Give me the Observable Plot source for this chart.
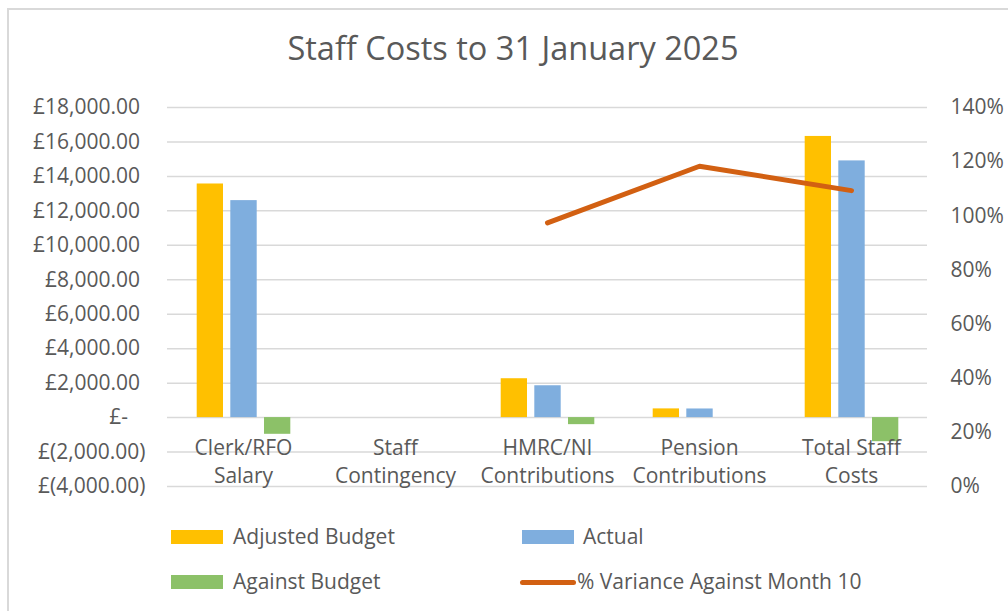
<!DOCTYPE html>
<html>
<head>
<meta charset="utf-8">
<script src="https://cdn.jsdelivr.net/npm/d3@7"></script>
<script src="https://cdn.jsdelivr.net/npm/@observablehq/plot@0.6"></script>
<style>
  html, body { margin: 0; padding: 0; background: white; overflow: hidden; }
  #page { position: relative; width: 1008px; height: 611px; overflow: hidden; font-family: "Open Sans", sans-serif; color: #595959; }
  #frame { position: absolute; left: 7px; top: 8px; width: 1100px; height: 700px; border: 2px solid #d9d9d9; box-sizing: border-box; pointer-events: none; }
  #title { position: absolute; left: 0; top: 0; width: 1008px; height: 80px; box-sizing: border-box; padding-left: 18px; padding-top: 28px; text-align: center; font-size: 32.5px; line-height: 40px; color: #595959; white-space: nowrap; }
  #chart { position: absolute; left: 0; top: 80px; }
  .leg { position: absolute; font-size: 21px; line-height: 28px; color: #595959; white-space: nowrap; }
  .sw { position: absolute; width: 52px; height: 14px; }
  .ln { position: absolute; width: 56px; height: 5px; border-radius: 3px; }
</style>
</head>
<body>
<div id="page">
  <div id="title">Staff Costs to 31 January 2025</div>
  <div id="chart"></div>
  <div id="legend"></div>
  <div id="frame"></div>
</div>
<script>
// ---- data ----
const categories = ["Clerk/RFO\nSalary", "Staff\nContingency", "HMRC/NI\nContributions", "Pension\nContributions", "Total Staff\nCosts"];
const adjustedBudget = [13560, 0, 2256, 505, 16320];
const actual = [12595, 0, 1848, 500, 14900];
const againstBudget = [-970, 0, -410, 0, -1400];
const variancePct = [null, null, 0.974, 1.183, 1.093];
const leftTicks = [-4000, -2000, 0, 2000, 4000, 6000, 8000, 10000, 12000, 14000, 16000, 18000];
const rightTicks = [0, 0.2, 0.4, 0.6, 0.8, 1.0, 1.2, 1.4];
const seriesNames = ["Adjusted Budget", "Actual", "Against Budget", "% Variance Against Month 10"];
const seriesColors = ["#FFC000", "#7FAEDE", "#8CC168", "#D26012"];

// ---- helpers ----
const yMin = -4000, yMax = 18000, pMax = 1.4;
const toLeft = p => yMin + p / pMax * (yMax - yMin);
const fromLeft = v => (v - yMin) / (yMax - yMin) * pMax;
const f2 = d3.format(",.2f");
function fmtGBP(v) {
  if (v === 0) return "£-\u2007\u2008";
  if (v < 0) return "£(" + f2(-v) + ")";
  return "£" + f2(v) + "\u2008";
}

const rows = categories.map((c, i) => ({
  category: c,
  budget: adjustedBudget[i],
  actual: actual[i],
  against: againstBudget[i],
  pct: variancePct[i]
}));

const chart = Plot.plot({
  width: 1008,
  height: 420,
  marginTop: 27,
  marginBottom: 14,
  marginLeft: 167,
  marginRight: 81,
  style: { fontFamily: "Open Sans, sans-serif", fontSize: "21px", color: "#595959", background: "white", overflow: "visible" },
  x: { domain: categories, padding: 0, axis: null },
  y: { domain: [yMin, yMax], axis: null },
  marks: [
    Plot.gridY(leftTicks, { stroke: "#d9d9d9", strokeOpacity: 1, strokeWidth: 1.5 }),
    Plot.axisY(leftTicks, { anchor: "left", tickSize: 0, tickPadding: 22, tickFormat: fmtGBP, label: null, fontSize: 21, fill: "#595959" }),
    Plot.axisY(rightTicks.map(toLeft), { anchor: "right", tickSize: 0, tickPadding: 23, label: null, fontSize: 21, fill: "#595959",
      tickFormat: v => Math.round(fromLeft(v) * 100) + "%" }),
    Plot.barY(rows, { x: "category", y: "budget", fill: seriesColors[0], insetLeft: 29.7, insetRight: 96 }),
    Plot.barY(rows, { x: "category", y: "actual", fill: seriesColors[1], insetLeft: 63.3, insetRight: 62.3 }),
    Plot.barY(rows, { x: "category", y: "against", fill: seriesColors[2], insetLeft: 97, insetRight: 28.7 }),
    Plot.text(rows, { x: "category", y: () => 0, text: "category", lineAnchor: "top", dy: 17, lineHeight: 1.36, fill: "#595959", fontSize: 21 }),
    Plot.lineY(rows, { x: "category", y: d => d.pct == null ? NaN : toLeft(d.pct), stroke: seriesColors[3], strokeWidth: 5, strokeLinecap: "round", strokeLinejoin: "round" })
  ]
});
document.getElementById("chart").appendChild(chart);

// ---- legend ----
const legend = document.getElementById("legend");
const legItems = [
  { name: seriesNames[0], color: seriesColors[0], type: "sw", sx: 171, tx: 233, cy: 537 },
  { name: seriesNames[1], color: seriesColors[1], type: "sw", sx: 522, tx: 583, cy: 537 },
  { name: seriesNames[2], color: seriesColors[2], type: "sw", sx: 171, tx: 233, cy: 582 },
  { name: seriesNames[3], color: seriesColors[3], type: "ln", sx: 520, tx: 577, cy: 582 }
];
legItems.forEach(it => {
  const s = document.createElement("div");
  s.className = it.type;
  s.style.left = it.sx + "px";
  s.style.background = it.color;
  s.style.top = (it.type === "sw" ? it.cy - 7 : it.cy - 2.5) + "px";
  legend.appendChild(s);
  const t = document.createElement("div");
  t.className = "leg";
  t.style.left = it.tx + "px";
  t.style.top = (it.cy - 15) + "px";
  t.textContent = it.name;
  legend.appendChild(t);
});
</script>
</body>
</html>
